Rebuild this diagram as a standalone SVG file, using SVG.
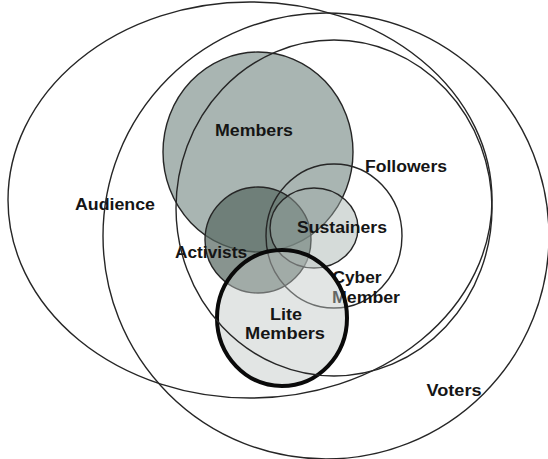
<svg xmlns="http://www.w3.org/2000/svg" width="548" height="459" viewBox="0 0 548 459">
  <style>
    .ring { fill: none; stroke: #262626; stroke-width: 1.4; }
    .disc { stroke: #262626; stroke-width: 1.4; }
    .label { font-family: "Liberation Sans", Arial, sans-serif; font-weight: bold; font-size: 16px; fill: #151515; text-anchor: middle; }
  </style>
  <rect width="548" height="459" fill="#ffffff"/>

  <!-- filled membership circles -->
  <g id="members">
    <ellipse class="disc" cx="258" cy="152" rx="95" ry="100" fill="#a9b5b2"/>
    <text class="label" x="254" y="136" textLength="78" lengthAdjust="spacingAndGlyphs">Members</text>
  </g>
  <g id="activists">
    <circle class="disc" cx="258" cy="240" r="53" fill="rgb(87,104,97)" fill-opacity="0.71"/>
    <text class="label" x="211" y="258" textLength="72" lengthAdjust="spacingAndGlyphs">Activists</text>
  </g>
  <g id="sustainers">
    <ellipse class="disc" cx="314" cy="228" rx="44" ry="40" fill="rgb(159,173,168)" fill-opacity="0.44"/>
    <text class="label" x="342" y="233" textLength="90" lengthAdjust="spacingAndGlyphs">Sustainers</text>
  </g>
  <g id="cyber-member">
    <ellipse class="ring" cx="334" cy="236" rx="68" ry="72"/>
    <text class="label" x="357" y="283" textLength="49" lengthAdjust="spacingAndGlyphs">Cyber</text>
    <text class="label" x="366" y="303" textLength="68" lengthAdjust="spacingAndGlyphs">Member</text>
  </g>
  <g id="lite-members">
    <ellipse cx="282" cy="318" rx="65" ry="68" fill="rgb(192,198,196)" fill-opacity="0.46" stroke="#0a0a0a" stroke-width="4"/>
    <text class="label" x="286" y="320" textLength="32" lengthAdjust="spacingAndGlyphs">Lite</text>
    <text class="label" x="285" y="339" textLength="80" lengthAdjust="spacingAndGlyphs">Members</text>
  </g>

  <!-- outer audience rings -->
  <g id="audience">
    <ellipse class="ring" cx="250" cy="200" rx="242" ry="198"/>
    <text class="label" x="115" y="210" textLength="80" lengthAdjust="spacingAndGlyphs">Audience</text>
  </g>
  <g id="followers">
    <ellipse class="ring" cx="334" cy="208" rx="158" ry="168"/>
    <text class="label" x="406" y="172" textLength="82" lengthAdjust="spacingAndGlyphs">Followers</text>
  </g>
  <g id="voters">
    <circle class="ring" cx="326" cy="236" r="223"/>
    <text class="label" x="454" y="396" textLength="55" lengthAdjust="spacingAndGlyphs">Voters</text>
  </g>

  <!-- no connectors between the sets -->
  <g id="connectors"/>
</svg>
